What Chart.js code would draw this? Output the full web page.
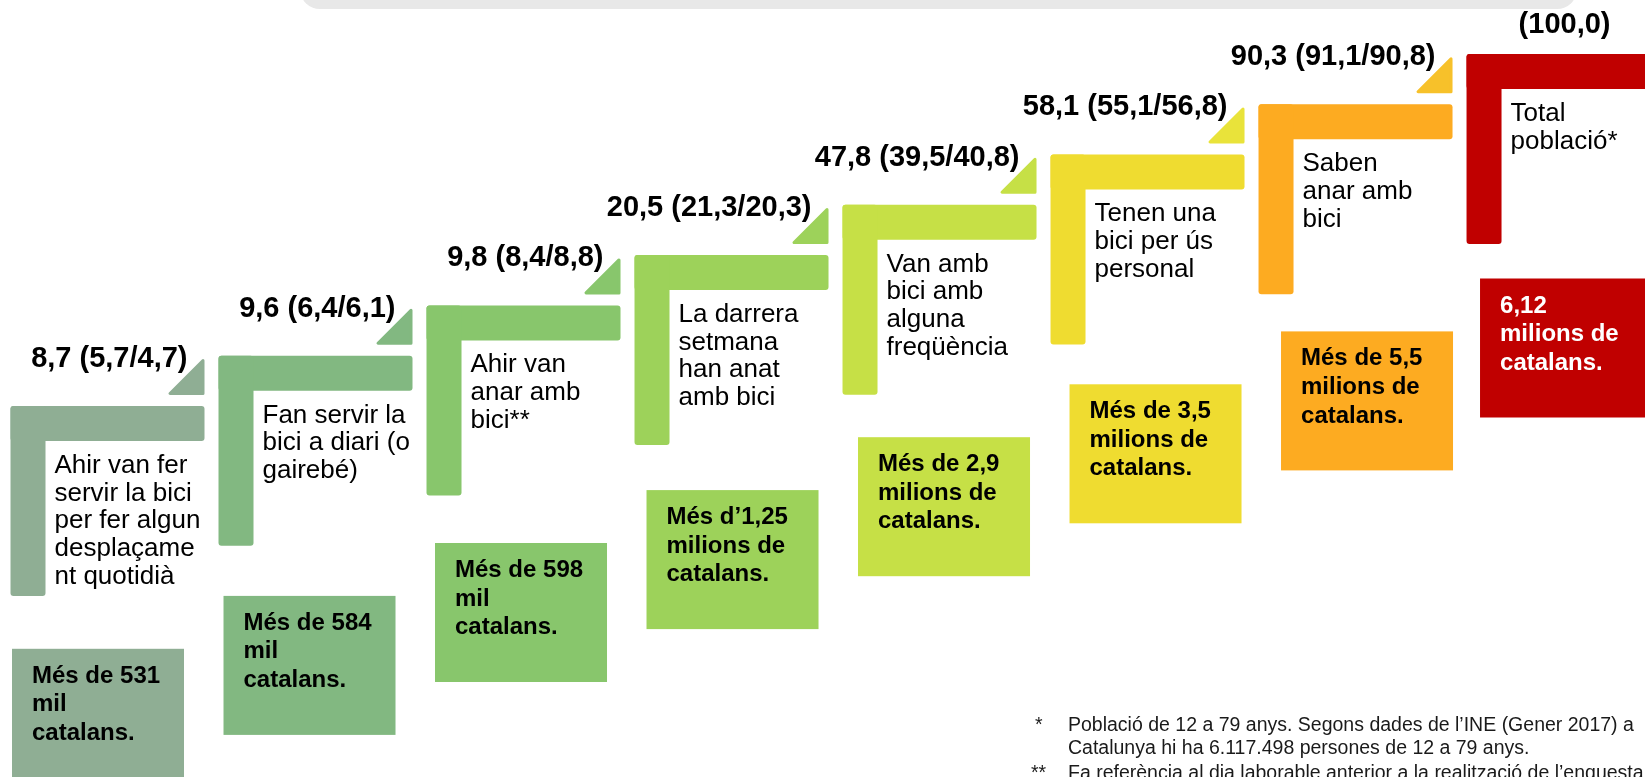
<!DOCTYPE html>
<html lang="ca">
<head>
<meta charset="utf-8">
<title>Ús de la bicicleta a Catalunya</title>
<script src="https://cdn.jsdelivr.net/npm/chart.js@4.4.1/dist/chart.umd.min.js"></script>
<style>
  html, body { margin: 0; padding: 0; background: #fff; overflow: hidden; }
  #wrap { width: 1645px; height: 777px; }
</style>
</head>
<body>
<div id="wrap"><canvas id="myChart" width="1645" height="777"></canvas></div>
<script>
// graons (de menys a més població), text partit en línies com a l'original
var stepLabels = [
  ['Ahir van fer', 'servir la bici', 'per fer algun', 'desplaçame', 'nt quotidià'],
  ['Fan servir la', 'bici a diari (o', 'gairebé)'],
  ['Ahir van', 'anar amb', 'bici**'],
  ['La darrera', 'setmana', 'han anat', 'amb bici'],
  ['Van amb', 'bici amb', 'alguna', 'freqüència'],
  ['Tenen una', 'bici per ús', 'personal'],
  ['Saben', 'anar amb', 'bici'],
  ['Total', 'població*']
];
var share = [8.7, 9.6, 9.8, 20.5, 47.8, 58.1, 90.3, 100.0];
var sharePrevA = [5.7, 6.4, 8.4, 21.3, 39.5, 55.1, 91.1, null];
var sharePrevB = [4.7, 6.1, 8.8, 20.3, 40.8, 56.8, 90.8, null];
var people = [
  ['Més de 531', 'mil', 'catalans.'],
  ['Més de 584', 'mil', 'catalans.'],
  ['Més de 598', 'mil', 'catalans.'],
  ['Més d\u20191,25', 'milions de', 'catalans.'],
  ['Més de 2,9', 'milions de', 'catalans.'],
  ['Més de 3,5', 'milions de', 'catalans.'],
  ['Més de 5,5', 'milions de', 'catalans.'],
  ['6,12', 'milions de', 'catalans.']
];
var stepLevel = [0, 1, 2, 3, 4, 5, 6, 7];
var footnotes = [
  ['*', 'Població de 12 a 79 anys. Segons dades de l\u2019INE (Gener 2017) a'],
  ['', 'Catalunya hi ha 6.117.498 persones de 12 a 79 anys.'],
  ['**', 'Fa referència al dia laborable anterior a la realització de l\u2019enquesta']
];

var barColors = ['#8fae94', '#82b881', '#88c66c', '#9dd25a', '#c6e046', '#efdc30', '#fdab21', '#c00000'];
var triColors = ['#8fae94', '#82b881', '#88c66c', '#9dd25a', '#c6e046', '#e9e33a', '#f7c12a', '#c00000'];

var FONT = '"Liberation Sans", Arial, sans-serif';

function fmt(v) { return v.toFixed(1).replace('.', ','); }
function valueLabel(i) {
  if (sharePrevA[i] == null) return '(' + fmt(share[i]) + ')';
  return fmt(share[i]) + ' (' + fmt(sharePrevA[i]) + '/' + fmt(sharePrevB[i]) + ')';
}

function rrect(ctx, x, y, w, h, r) {
  ctx.beginPath();
  ctx.roundRect(x, y, w, h, r);
  ctx.fill();
}

var stepsPlugin = {
  id: 'steps',
  beforeDatasetsDraw: function(chart) {
    var ctx = chart.ctx;
    // franja gris de la capçalera
    ctx.save();
    ctx.fillStyle = '#e8e8e8';
    rrect(ctx, 300, -40, 1277, 49, 20);
    ctx.restore();
  },
  afterDatasetsDraw: function(chart) {
    var ctx = chart.ctx, x = chart.scales.x, y = chart.scales.y;
    ctx.save();
    stepLevel.forEach(function(lv, i) {
      var left = x.getPixelForValue(i);
      var top = y.getPixelForValue(lv);
      var right = left + 194;
      var col = barColors[i];
      var last = i === stepLevel.length - 1;

      // triangle
      if (!last) {
        var tb = top - 11, ts = 36;
        ctx.fillStyle = triColors[i];
        ctx.strokeStyle = triColors[i];
        ctx.lineWidth = 3;
        ctx.lineJoin = 'round';
        ctx.beginPath();
        ctx.moveTo(right - ts + 1.5, tb - 1.5);
        ctx.lineTo(right - 1.5, tb - 1.5);
        ctx.lineTo(right - 1.5, tb - ts + 1.5);
        ctx.closePath();
        ctx.fill();
        ctx.stroke();
      }

      // L
      ctx.fillStyle = col;
      rrect(ctx, left, top, 194, 35, 3);
      rrect(ctx, left, top, 35, 190, 3);

      // valor
      ctx.fillStyle = '#000';
      ctx.font = 'bold 29px ' + FONT;
      ctx.textBaseline = 'alphabetic';
      if (last) {
        ctx.textAlign = 'center';
        ctx.fillText(valueLabel(i), left + 98, top - 21);
      } else {
        ctx.textAlign = 'right';
        ctx.fillText(valueLabel(i), right - 17, top - 39);
      }

      // descripció
      ctx.textAlign = 'left';
      ctx.font = '26px ' + FONT;
      stepLabels[i].forEach(function(line, k) {
        ctx.fillText(line, left + 44, top + 67 + k * 27.7);
      });

      // caixa de població
      var bx = left + 1.5 + (last ? 12 : 3.5 * i);
      var by = top + 242.8 - 2.6 * lv;
      ctx.fillStyle = col;
      ctx.fillRect(bx, by, 172, 139);
      ctx.fillStyle = last ? '#fff' : '#000';
      ctx.font = 'bold 24px ' + FONT;
      people[i].forEach(function(line, k) {
        ctx.fillText(line, bx + 20, by + 34 + k * 28.6);
      });
    });

    // notes
    ctx.fillStyle = '#1a1a1a';
    ctx.font = '19.5px ' + FONT;
    ctx.textAlign = 'left';
    var bases = [731, 753.5, 779];
    footnotes.forEach(function(f, k) {
      if (f[0]) ctx.fillText(f[0], f[0].length > 1 ? 1031 : 1035, bases[k]);
      ctx.fillText(f[1], 1068, bases[k]);
    });
    ctx.restore();
  }
};

var ctx = document.getElementById('myChart').getContext('2d');
new Chart(ctx, {
  type: 'scatter',
  data: {
    datasets: [{
      label: 'graons',
      data: stepLevel.map(function(lv, i) { return { x: i, y: lv }; }),
      pointRadius: 0,
      showLine: false
    }]
  },
  options: {
    responsive: false,
    animation: false,
    events: [],
    layout: { padding: 0 },
    plugins: { legend: { display: false }, tooltip: { enabled: false } },
    scales: {
      x: { type: 'linear', display: false, min: -0.0505, max: 7.858 },
      y: { type: 'linear', display: false, min: -7.376, max: 8.0716 }
    }
  },
  plugins: [stepsPlugin]
});
</script>
</body>
</html>
